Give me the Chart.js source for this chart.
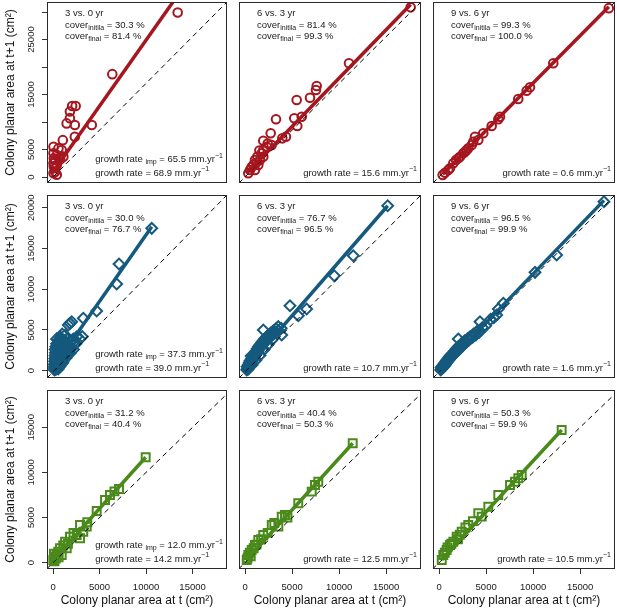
<!DOCTYPE html>
<html>
<head>
<meta charset="utf-8">
<script src="https://cdn.jsdelivr.net/npm/chart.js@4.4.1/dist/chart.umd.min.js"></script>
<style>
  html, body { margin: 0; padding: 0; background: #fff; }
  #wrap { position: relative; width: 617px; height: 609px; overflow: hidden; }
  #wrap canvas { position: absolute; left: 0; top: 0; }
</style>
</head>
<body>
<div id="wrap"></div>
<script>
// colony area pairs [area at t, area at t+1] in cm2
const red3v0 = [[22800,29900],[10850,18700],[7100,9450],[4150,12900],[3500,12900],[3100,11900],[3100,10700],
  [2500,9750],[4000,9450],[4000,7300],[1800,6700],[100,5500],[1000,5200],[1600,4900],[100,4300],[700,4000],
  [1900,3700],[150,3400],[400,3100],[1300,3200],[100,2500],[700,2200],[150,1900],[400,1600],[100,700],[700,400],[400,950]];
const red6v3 = [[29950,30850],[18800,20670],[12960,16550],[12830,15820],[11750,14420],[9340,14000],[10250,10960],
  [8900,10670],[9450,9270],[5600,10490],[7400,7330],[6740,7030],[4640,7950],[3300,6600],[4820,5820],[3920,5510],
  [3300,4910],[3010,4310],[2220,3690],[3300,3690],[2700,3090],[1800,3090],[2400,2180],[1500,2180],[900,1270],
  [590,670],[1800,1270],[4100,6100],[2000,2600],[1200,1800],[2600,4800]];
const red9v6 = [[30700,30700],[20660,20670],[16450,16310],[15850,15690],[14330,14180],[11020,10960],[10720,10490],
  [9520,9270],[8000,7950],[6500,7330],[7100,6730],[5910,5820],[5000,4910],[4390,4310],[3480,3400],[2580,2490],
  [1980,1580],[1080,780],[660,360],[3790,3690],[5290,5220],[6200,6420],[3070,3090],[1680,1270],[4700,4600]];

const blue3v0 = [[12170,17470],[8090,13090],[7800,10630],[5300,7320],[3630,6430],[2180,6010],[1760,5600],[1970,5810],
  [2810,4170],[2380,3885],[1350,4380],[935,3760],[1560,2740],
  [30,80],[60,250],[20,450],[90,600],[40,800],[120,950],[60,1150],[150,1300],[80,1500],[200,1650],[100,1850],
  [250,2000],[150,2200],[300,2350],[120,2600],[350,2750],[200,2950],[450,3100],[300,3300],[600,3450],[500,3000],
  [700,3200],[200,150],[350,300],[250,550],[450,700],[350,900],[550,1050],[450,1250],[650,1400],[550,1600],
  [800,1750],[700,1950],[900,2100],[850,2400],[1050,2550],[1000,2850],[1200,3000],[1150,3300],[1400,3450],
  [1300,3700],[1600,3900],[500,200],[700,500],[900,800],[1100,1100],[1300,1450],[1500,1800],[1700,2150],
  [1900,2500],[2100,2900],[1200,2100],[1450,2650],[1750,3150],[2000,3500],[2300,3700],[2500,3500],[650,2600],
  [400,1900],[800,2900],[1970,2130],[2400,2600],[1500,1600],[1000,900],[2700,3300],[3200,3900],[3500,4200],
  [500,3700],[800,4100],[300,3900],[1000,4500]];
const blue6v3 = [[17450,20240],[13200,14110],[10860,11650],[5390,7970],[7450,7570],[6420,6740],[2100,4990],[4370,4380],
  [50,100],[150,300],[100,500],[300,400],[250,700],[400,650],[350,950],[500,900],[450,1200],[650,1100],[600,1400],
  [800,1350],[750,1650],[950,1600],[900,1900],[1100,1850],[1050,2150],[1250,2100],[1200,2400],[1400,2350],
  [1350,2700],[1550,2600],[1500,2950],[1750,2850],[1700,3200],[1950,3100],[1900,3450],[2150,3350],[2100,3700],
  [2350,3550],[2300,3950],[2600,3800],[2550,4200],[2850,4050],[2800,4400],[3100,4300],[3050,4650],[3400,4500],
  [3350,4900],[3700,4700],[3650,5150],[4000,4900],[3950,5400],[4300,5200],[200,150],[700,700],[1200,1300],
  [1700,1900],[2200,2600],[2700,3200],[3200,3800],[600,1800]];
const blue9v6 = [[20200,20730],[14360,14190],[11690,12070],[7780,8270],[7160,7570],[6960,6830],[4900,6010],[2220,3885],
  [50,80],[150,250],[100,400],[300,350],[250,550],[450,500],[400,750],[600,700],[550,950],[750,900],[700,1150],
  [900,1100],[850,1350],[1050,1300],[1000,1550],[1200,1500],[1150,1750],[1400,1700],[1350,1950],[1600,1900],
  [1550,2150],[1800,2100],[1750,2400],[2000,2300],[1950,2650],[2250,2550],[2200,2900],[2500,2800],[2450,3150],
  [2750,3050],[2700,3400],[3000,3300],[3000,3650],[3300,3550],[3350,3900],[3600,3800],[3700,4200],[4000,4100],
  [4100,4500],[4400,4400],[4500,4800],[4800,4700],[5200,5300],[5600,5500],[6200,6300],[6600,6500]];

const green3v0 = [[9960,11680],[7090,8160],[6120,7500],[6600,7900],[5590,6950],[4690,5730],[3680,4470],[3620,3990],
  [2900,4175],[3250,3430],[2540,3070],[1820,2880],[2900,2700],[1290,2320],[1470,1590],[750,1590],[560,1220],
  [930,850],[210,660],[30,300],[400,900],[1100,1900],[150,150],[300,450],[1600,2100],[2200,3300],[100,1000],[600,600]];
const green6v3 = [[11440,13230],[7780,8970],[7430,8610],[7080,7870],[5650,6580],[4240,5280],[3890,5100],[2830,4175],
  [3530,3990],[1930,3070],[1400,2510],[1050,1960],[700,1400],[340,850],[170,300],[4500,5000],[2400,3300],
  [1700,2600],[900,1600],[500,1100],[1200,2000],[3100,4400],[600,700],[250,500]];
const green9v6 = [[13030,14700],[8780,9720],[8420,9350],[8070,8970],[7540,8610],[6290,7500],[5230,6200],[4165,5470],
  [4530,5100],[3100,4175],[2400,3430],[1870,2880],[1510,2320],[1160,1960],[800,1400],[450,850],[280,300],
  [2800,3900],[2000,2600],[3600,4600],[1300,2100],[600,1100],[900,1700],[2200,3100]];

// fitted growth lines, end points
const red3v0Fit = [[100,1050],[22800,33030]];
const red6v3Fit = [[300,670],[29950,31360]];
const red9v6Fit = [[660,500],[30700,30950]];
const blue3v0Fit = [[100,700],[12170,17650]];
const blue6v3Fit = [[100,410],[17450,20240]];
const blue9v6Fit = [[50,100],[20200,20900]];
const green3v0Fit = [[30,310],[9960,11680]];
const green6v3Fit = [[170,320],[11440,13230]];
const green9v6Fit = [[280,320],[13030,14700]];

// axis limits per row and ticks
const yLimits = [[-1090,31820],[-900,21560],[-700,19130]];
const xLimits = [[-1090,31820],[-900,21560],[-650,18700]];
const yTicks = [[0,5000,10000,15000,20000,25000,30000],[0,5000,10000,15000,20000],[0,5000,10000,15000]];
const yTickLabels = [[0,5000,15000,25000],[0,5000,10000,15000,20000],[0,5000,10000,15000]];
const xTicks = [0,5000,10000,15000];

// panel annotations
const periods = ['3 vs. 0 yr','6 vs. 3 yr','9 vs. 6 yr'];
const coverInitial = [[30.3,81.4,99.3],[30.0,76.7,96.5],[31.2,40.4,50.3]];
const coverFinal = [[81.4,99.3,100.0],[76.7,96.5,99.9],[40.4,50.3,59.9]];
const growthImp = [65.5,37.3,12.0];
const growth = [[68.9,15.6,0.6],[39.0,10.7,1.6],[14.2,12.5,10.5]];

const rowColors = ['#a5161f','#155a7e','#4a8a1a'];
const rowStyles = ['circle','rectRot','rect'];
const rowRadius = [4.3,5.4,5.6];

const panels = [
  [[red3v0,red3v0Fit],[red6v3,red6v3Fit],[red9v6,red9v6Fit]],
  [[blue3v0,blue3v0Fit],[blue6v3,blue6v3Fit],[blue9v6,blue9v6Fit]],
  [[green3v0,green3v0Fit],[green6v3,green6v3Fit],[green9v6,green9v6Fit]]
];

const W = 617, H = 609;
const colLeft = [47,239,433], colRight = [227,421,615];
const rowTop = [2,195,390], rowBottom = [183,378,569];
const FONT = "'Liberation Sans', Arial, Helvetica, sans-serif";
const TXT = 9.5, SMALL = 7;

function runsWidth(ctx, runs) {
  let w = 0;
  runs.forEach(r => {
    ctx.font = (r.s ? SMALL : TXT) + 'px ' + FONT;
    w += ctx.measureText(r.t).width;
  });
  return w;
}
function drawRuns(ctx, runs, x, y) {
  let cx = x;
  runs.forEach(r => {
    ctx.font = (r.s ? SMALL : TXT) + 'px ' + FONT;
    const dy = r.s === 'sub' ? 2.8 : (r.s === 'sup' ? -3.6 : 0);
    ctx.fillText(r.t, cx, y + dy);
    cx += ctx.measureText(r.t).width;
  });
}

const panelPlugin = {
  id: 'panel',
  afterDraw(chart, args, o) {
    const {ctx, chartArea: a} = chart;
    const r = o.row, c = o.col;
    ctx.save();
    ctx.strokeStyle = '#2a2a2a';
    ctx.lineWidth = 1;
    ctx.strokeRect(a.left + 0.5, a.top + 0.5, a.right - a.left - 1, a.bottom - a.top - 1);
    ctx.fillStyle = '#1a1a1a';
    ctx.textBaseline = 'middle';
    ctx.textAlign = 'left';
    const tx = a.left + 18;
    drawRuns(ctx, [{t: periods[c]}], tx, a.top + 11.5);
    drawRuns(ctx, [{t: 'cover'}, {t: 'initila', s: 'sub'}, {t: ' = ' + coverInitial[r][c].toFixed(1) + ' %'}], tx, a.top + 23);
    drawRuns(ctx, [{t: 'cover'}, {t: 'final', s: 'sub'}, {t: ' = ' + coverFinal[r][c].toFixed(1) + ' %'}], tx, a.top + 34.5);
    const lines = [];
    if (c === 0) {
      lines.push([{t: 'growth rate '}, {t: 'imp', s: 'sub'}, {t: ' = ' + growthImp[r].toFixed(1) + ' mm.yr'}, {t: '\u22121', s: 'sup'}]);
    }
    lines.push([{t: 'growth rate = ' + growth[r][c].toFixed(1) + ' mm.yr'}, {t: '\u22121', s: 'sup'}]);
    const maxW = Math.max(...lines.map(l => runsWidth(ctx, l)));
    const bx = a.right - 4 - maxW;
    lines.forEach((l, i) => {
      drawRuns(ctx, l, bx, a.bottom - 10 - (lines.length - 1 - i) * 13.5);
    });
    ctx.restore();
  }
};

const wrap = document.getElementById('wrap');

function makePanel(r, c) {
  const canvas = document.createElement('canvas');
  canvas.width = W;
  canvas.height = H;
  wrap.appendChild(canvas);
  const showY = c === 0, showX = r === 2;
  const color = rowColors[r];
  const [pts, fit] = panels[r][c];
  const yl = yLimits[r], xl = xLimits[r];
  const tickFont = {family: FONT, size: TXT};
  const titleFont = {family: FONT, size: 12, lineHeight: 1, weight: 'normal'};

  new Chart(canvas, {
    type: 'scatter',
    data: {
      datasets: [
        {data: fit, showLine: true, borderColor: color, borderWidth: 3.5, pointRadius: 0, clip: 0, order: 0},
        {data: [[yl[0], yl[0]], [yl[1], yl[1]]], showLine: true, borderColor: '#000', borderWidth: 1,
         borderDash: [5, 4], pointRadius: 0, clip: 0, order: 1},
        {data: pts, pointStyle: rowStyles[r], pointRadius: rowRadius[r], pointBorderWidth: 2,
         borderColor: color, backgroundColor: 'rgba(0,0,0,0)', clip: 0, order: 2}
      ]
    },
    options: {
      responsive: false,
      animation: false,
      events: [],
      layout: {
        autoPadding: false,
        padding: {
          left: showY ? 0 : colLeft[c],
          right: W - colRight[c],
          top: rowTop[r],
          bottom: showX ? 0 : H - rowBottom[r]
        }
      },
      plugins: {
        legend: {display: false},
        tooltip: {enabled: false},
        panel: {row: r, col: c}
      },
      scales: {
        x: {
          type: 'linear', position: 'bottom', min: xl[0], max: xl[1], display: showX,
          afterBuildTicks: s => { s.ticks = xTicks.map(v => ({value: v})); },
          afterFit: s => {
            if (showX) { s.height = H - rowBottom[2]; } else { s.height = 0; }
            s.paddingLeft = 0; s.paddingRight = 0;
          },
          grid: {drawOnChartArea: false, drawTicks: true, tickLength: 5, color: '#333', lineWidth: 1},
          border: {display: false},
          ticks: {autoSkip: false, minRotation: 0, maxRotation: 0, padding: 8, font: tickFont, color: '#1a1a1a',
                  callback: v => String(v)},
          title: {display: true, text: 'Colony planar area at t (cm\u00b2)', font: titleFont, color: '#111',
                  padding: {top: 0, bottom: 2}}
        },
        y: {
          type: 'linear', position: 'left', min: yl[0], max: yl[1], display: showY,
          afterBuildTicks: s => { s.ticks = yTicks[r].map(v => ({value: v})); },
          afterFit: s => {
            if (showY) { s.width = colLeft[0]; } else { s.width = 0; }
            s.paddingTop = 0; s.paddingBottom = 0;
          },
          grid: {drawOnChartArea: false, drawTicks: true, tickLength: 5, color: '#333', lineWidth: 1},
          border: {display: false},
          ticks: {autoSkip: false, minRotation: 90, maxRotation: 90, crossAlign: 'center', padding: -2.4,
                  font: tickFont, color: '#1a1a1a',
                  callback: v => yTickLabels[r].includes(v) ? String(v) : ''},
          title: {display: true, text: 'Colony planar area at t+1 (cm\u00b2)', font: titleFont, color: '#111',
                  padding: {top: 4.3, bottom: 0}}
        }
      }
    },
    plugins: [panelPlugin]
  });
}

for (let r = 0; r < 3; r++) {
  for (let c = 0; c < 3; c++) makePanel(r, c);
}
</script>
</body>
</html>
